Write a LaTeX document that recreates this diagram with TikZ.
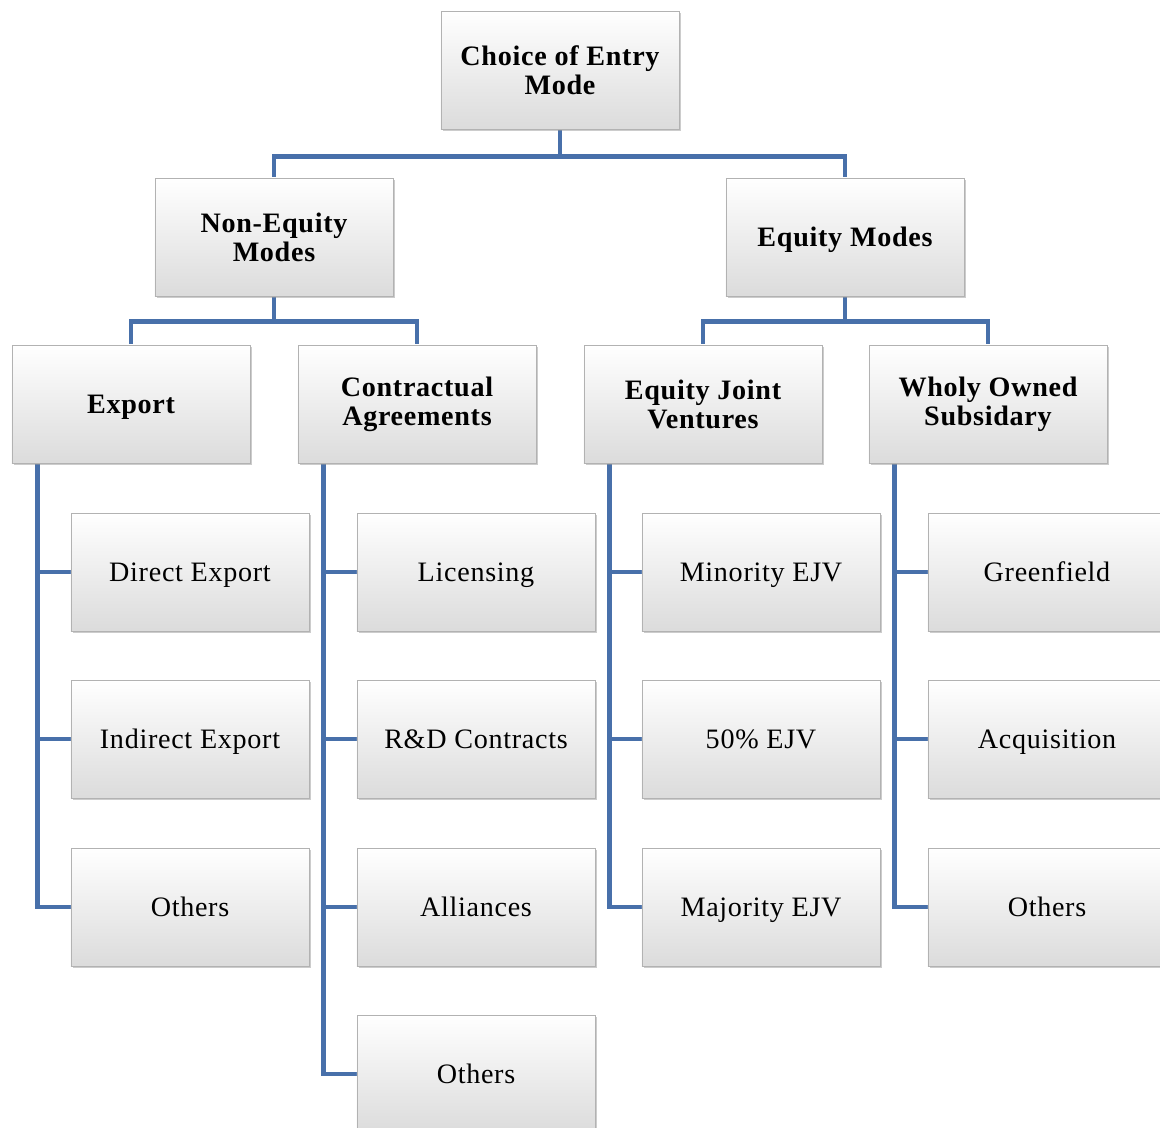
\documentclass[tikz,border=0pt]{standalone}
\usepackage{fontspec}
\setmainfont{Liberation Serif}
\usetikzlibrary{calc,shadows,backgrounds}
\definecolor{linkblue}{RGB}{72,112,170}
\begin{document}
\begin{tikzpicture}[x=0.025cm,y=-0.025cm,
    box/.style={draw=gray!60,line width=0.6pt,top color=white,bottom color=gray!28,
        minimum width=5.95cm,minimum height=2.95cm,inner sep=2pt,
        drop shadow={shadow xshift=1.3pt,shadow yshift=-1.3pt,opacity=0.5,fill=gray!80}},
    leaf/.style={box,text height=14pt,text depth=0pt,
        font=\fontsize{20}{20.6}\selectfont\addfontfeatures{LetterSpace=2.5}},
    head/.style={box,align=center,execute at begin node={\rule{0pt}{18pt}},
        font=\fontsize{20}{20.6}\selectfont\bfseries\addfontfeatures{LetterSpace=2.5}},
    link/.style={draw=linkblue,line width=3.5pt}]
\useasboundingbox (0,0) rectangle (1160,1128);
\clip (0,0) rectangle (1160,1128);
% top levels
\node[head] (R) at (560,70) {Choice of Entry\\Mode};
\node[head] (NE) at (274,237) {Non-Equity\\Modes};
\node[head] (EQ) at (845,237) {Equity Modes};
\node[head] (EX) at (131,404) {Export};
\node[head] (CA) at (417,404) {Contractual\\Agreements};
\node[head] (JV) at (703,404) {Equity Joint\\Ventures};
\node[head] (WO) at (988,404) {Wholy Owned\\Subsidary};
% leaves
\node[leaf] (EX1) at (190,572) {Direct Export};
\node[leaf] (EX2) at (190,739) {Indirect Export};
\node[leaf] (EX3) at (190,907) {Others};
\node[leaf] (CA1) at (476,572) {Licensing};
\node[leaf] (CA2) at (476,739) {R\&D Contracts};
\node[leaf] (CA3) at (476,907) {Alliances};
\node[leaf] (CA4) at (476,1074) {Others};
\node[leaf] (JV1) at (761,572) {Minority EJV};
\node[leaf] (JV2) at (761,739) {50\% EJV};
\node[leaf] (JV3) at (761,907) {Majority EJV};
\node[leaf] (WO1) at (1047,572) {Greenfield};
\node[leaf] (WO2) at (1047,739) {Acquisition};
\node[leaf] (WO3) at (1047,907) {Others};
% connectors
\begin{scope}[on background layer]
\coordinate (r) at ($(R.south)+(0,27)$);
\coordinate (ne) at ($(NE.south)+(0,25)$);
\coordinate (eq) at ($(EQ.south)+(0,25)$);
\draw[link] (R.south) -- (r) -| (NE.north);
\draw[link] (r) -| (EQ.north);
\draw[link] (NE.south) -- (ne) -| (EX.north);
\draw[link] (ne) -| (CA.north);
\draw[link] (EQ.south) -- (eq) -| (JV.north);
\draw[link] (eq) -| (WO.north);
\foreach \p/\n in {EX/3,CA/4,JV/3,WO/3}{
  \coordinate (\p s) at ($(\p.south west)+(26,0)$);
  \foreach \i in {1,...,\n}
    \draw[link] (\p s) |- (\p\i.west);
}
\end{scope}
\end{tikzpicture}
\end{document}
